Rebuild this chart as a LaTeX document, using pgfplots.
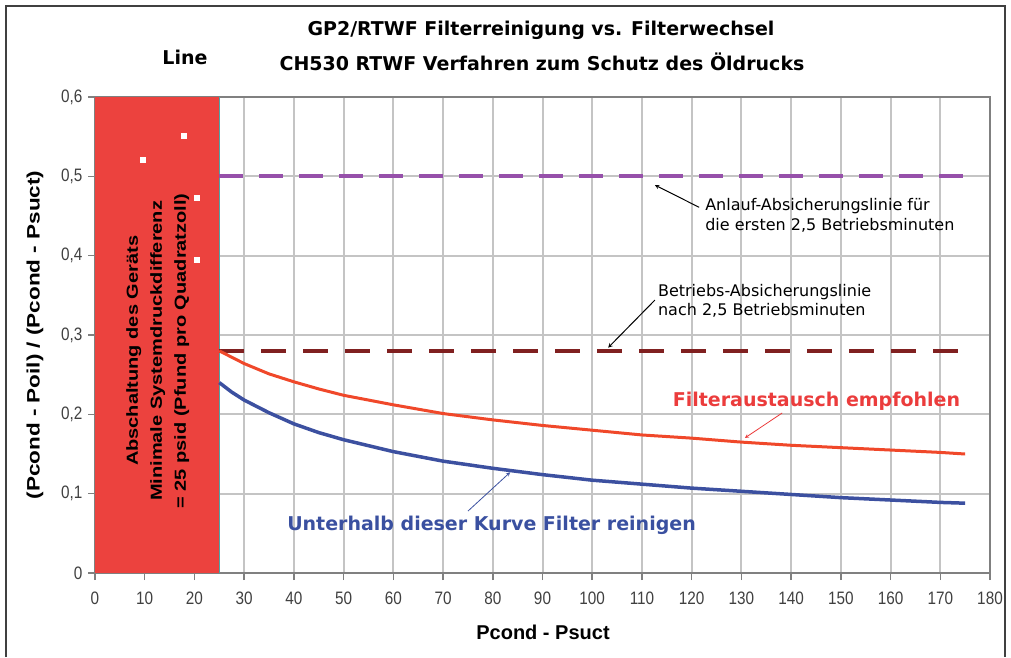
\documentclass[border=0pt]{standalone}
\usepackage{pgfplots}
\pgfplotsset{compat=1.18}
\usepackage{fontspec}
\setmainfont{Liberation Sans}
\newfontfamily\dejavu{DejaVu Sans}
\newfontfamily\tickf[FakeStretch=0.85]{Liberation Sans}
\newfontfamily\widef[FakeStretch=1.25]{Liberation Sans}
\definecolor{redbox}{RGB}{236,66,62}
\definecolor{redcurve}{RGB}{240,72,42}
\definecolor{bluecurve}{RGB}{60,80,160}
\definecolor{purpleline}{RGB}{150,80,170}
\definecolor{darkredline}{RGB}{128,32,32}
\definecolor{gridgray}{RGB}{196,196,196}
\definecolor{axisgray}{RGB}{128,128,128}
\definecolor{redtext}{RGB}{235,60,60}
\definecolor{bluetext}{RGB}{58,80,160}
\begin{document}
\begin{tikzpicture}[x=1pt,y=1pt]
\useasboundingbox (0,0) rectangle (1011,657);
\draw[color=black!75, line width=1.5pt] (6,0) -- (6,651) -- (1005,651) -- (1005,0);
\begin{axis}[
  at={(95pt,84pt)}, anchor=south west,
  scale only axis, width=895pt, height=476pt,
  xmin=0, xmax=180, ymin=0, ymax=0.6,
  xtick={0,10,20,30,40,50,60,70,80,90,100,110,120,130,140,150,160,170,180},
  xticklabels={0,10,20,30,40,50,60,70,80,90,100,110,120,130,140,150,160,170,180},
  ytick={0,0.1,0.2,0.3,0.4,0.5,0.6},
  yticklabels={0,{0,1},{0,2},{0,3},{0,4},{0,5},{0,6}},
  xtick pos=bottom, ytick pos=left,
  tick align=outside,
  major tick length=7pt,
  tick style={draw=axisgray, line width=1.5pt},
  grid=major,
  major grid style={draw=gridgray, line width=2pt},
  axis line style={draw=axisgray, line width=2.5pt},
  ticklabel style={font=\tickf\fontsize{18}{18}\selectfont, text=black!75},
  xticklabel style={yshift=-8pt},
  yticklabel style={xshift=-2pt},
  clip=false,
]
\fill[redbox] (axis cs:0,0) rectangle (axis cs:25,0.6);
\draw[color=teal!70, line width=1.2pt] (axis cs:25,0) -- (axis cs:25,0.6);
\addplot[only marks, mark=square*, mark size=2.5pt, mark options={fill=white, draw=white}]
  coordinates {(9.5,0.521) (17.9,0.551) (20.5,0.473) (20.5,0.395)};
\addplot[purpleline, line width=4pt, dash pattern=on 24pt off 16pt] coordinates {(25,0.5) (175,0.5)};
\addplot[darkredline, line width=4pt, dash pattern=on 25pt off 17pt] coordinates {(25,0.28) (175,0.28)};
\addplot[redcurve, line width=3pt] coordinates {
(25,0.280) (27.5,0.272) (30,0.264) (35,0.251) (40,0.241) (45,0.232) (50,0.224) (60,0.212) (70,0.201)
(80,0.193) (90,0.186) (100,0.180) (110,0.174) (120,0.170) (130,0.165) (140,0.161)
(150,0.158) (160,0.155) (170,0.152) (175,0.150)};
\addplot[bluecurve, line width=3.5pt] coordinates {
(25,0.240) (27.5,0.228) (30,0.218) (35,0.202) (40,0.188) (45,0.177) (50,0.168) (60,0.153) (70,0.141)
(80,0.132) (90,0.124) (100,0.117) (110,0.112) (120,0.107) (130,0.103) (140,0.099)
(150,0.095) (160,0.092) (170,0.089) (175,0.088)};
% red box text
\node[rotate=90, align=center, font=\widef\bfseries\fontsize{16}{24}\selectfont, text=black]
  at (axis cs:12.6,0.28) {Abschaltung des Geräts\\Minimale Systemdruckdifferenz\\= 25 psid (Pfund pro Quadratzoll)};
% annotations
\draw[-stealth, line width=1pt, black] (axis cs:121.5,0.461) -- (axis cs:112.6,0.489);
\node[anchor=west, align=left, font=\dejavu\fontsize{16}{20}\selectfont, inner sep=0pt]
  at (axis cs:122.7,0.451) {Anlauf-Absicherungslinie für\\die ersten 2,5 Betriebsminuten};
\draw[-stealth, line width=1pt, black] (axis cs:112.6,0.344) -- (axis cs:103.2,0.284);
\node[anchor=west, align=left, font=\dejavu\fontsize{16}{19}\selectfont, inner sep=0pt]
  at (axis cs:113.2,0.343) {Betriebs-Absicherungslinie\\nach 2,5 Betriebsminuten};
\draw[-stealth, line width=0.8pt, redtext] (axis cs:138.2,0.2017) -- (axis cs:130.7,0.1702);
\node[font=\dejavu\bfseries\fontsize{19}{22}\selectfont, text=redtext]
  at (axis cs:145.1,0.2168) {Filteraustausch empfohlen};
\draw[-stealth, line width=0.8pt, bluetext] (axis cs:75.0,0.078) -- (axis cs:83.5,0.127);
\node[font=\dejavu\bfseries\fontsize{19}{22}\selectfont, text=bluetext]
  at (axis cs:79.75,0.0605) {Unterhalb dieser Kurve Filter reinigen};
\end{axis}
% titles and labels
\node[font=\dejavu\bfseries\fontsize{19}{22}\selectfont] at (541,627) {GP2/RTWF Filterreinigung vs. Filterwechsel};
\node[font=\dejavu\bfseries\fontsize{19}{22}\selectfont] at (542,595) {CH530 RTWF Verfahren zum Schutz des Öldrucks};
\node[font=\dejavu\bfseries\fontsize{19}{22}\selectfont] at (185,600) {Line};
\node[font=\bfseries\fontsize{20}{24}\selectfont] at (543,25) {Pcond - Psuct};
\node[rotate=90, font=\widef\bfseries\fontsize{18}{22}\selectfont] at (35,322) {(Pcond - Poil) / (Pcond - Psuct)};
\end{tikzpicture}
\end{document}
